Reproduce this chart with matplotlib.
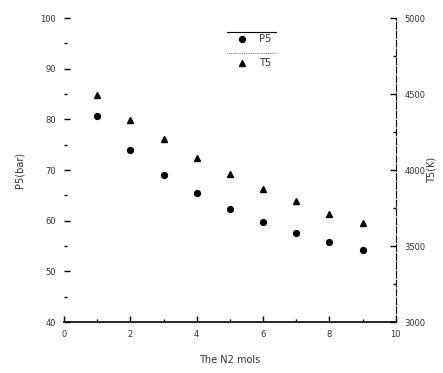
import numpy as np
import matplotlib.pyplot as plt
from matplotlib.ticker import MultipleLocator
from matplotlib.lines import Line2D

# data
n2_mols = [1, 2, 3, 4, 5, 6, 7, 8, 9]
p5_bar = [80.7, 74.0, 69.0, 65.5, 62.3, 59.8, 57.6, 55.7, 54.2]
t5_k = [4493, 4329, 4204, 4079, 3974, 3875, 3796, 3710, 3651]

fig = plt.figure(figsize=(4.43, 3.73), dpi=100)
ax = fig.add_axes([0.1445, 0.1367, 0.749, 0.815])
ax2 = ax.twinx()

ax.plot(n2_mols, p5_bar, "o", color="black", markersize=4.2, linestyle="none")
ax2.plot(n2_mols, t5_k, "^", color="black", markersize=5, linestyle="none")

ax.set_xlim(0, 10)
ax.set_ylim(40, 100)
ax2.set_ylim(3000, 5000)

ax.xaxis.set_major_locator(MultipleLocator(2))
ax.xaxis.set_minor_locator(MultipleLocator(1))
ax.yaxis.set_major_locator(MultipleLocator(10))
ax.yaxis.set_minor_locator(MultipleLocator(5))
ax2.yaxis.set_major_locator(MultipleLocator(500))
ax2.yaxis.set_minor_locator(MultipleLocator(250))

for a in (ax, ax2):
    a.spines["top"].set_visible(False)
    a.spines["left"].set_visible(False)
ax.spines["right"].set_visible(False)
ax.spines["bottom"].set_linewidth(1.2)
ax2.spines["bottom"].set_visible(False)
ax2.spines["right"].set_linewidth(0.8)
ax2.spines["right"].set_linestyle((0, (6, 2)))

txt = "#333333"
ax.tick_params(axis="both", which="major", direction="in", length=4, width=1,
               labelsize=6, colors="black", labelcolor=txt, pad=6)
ax.tick_params(axis="both", which="minor", direction="in", length=2, width=1)
ax2.tick_params(axis="y", which="major", direction="in", length=4, width=1,
                labelsize=6, labelcolor=txt, pad=6)
ax2.tick_params(axis="y", which="minor", direction="in", length=2, width=1)

ax.set_xlabel("The N2 mols", fontsize=7, color=txt, labelpad=11)
ax.set_ylabel("P5(bar)", fontsize=7, color=txt, labelpad=11)
ax2.set_ylabel("T5(K)", fontsize=7, color=txt, labelpad=1)

# legend
handles = [
    Line2D([], [], marker="o", color="black", linestyle="none", markersize=4.2),
    Line2D([], [], marker="^", color="black", linestyle="none", markersize=5),
]
leg = ax.legend(handles, ["P5", "T5"], loc="upper left",
                bbox_to_anchor=(0.48, 0.975), frameon=False, fontsize=7,
                handletextpad=0.8, labelspacing=1.4)
for t in leg.get_texts():
    t.set_color(txt)
ax.plot([0.49, 0.64], [0.955, 0.955], transform=ax.transAxes, color="black", lw=0.8,
        clip_on=False)
ax.plot([0.49, 0.64], [0.885, 0.885], transform=ax.transAxes, color="black", lw=0.5,
        linestyle=":", clip_on=False)

plt.savefig("out.png", dpi=100)
